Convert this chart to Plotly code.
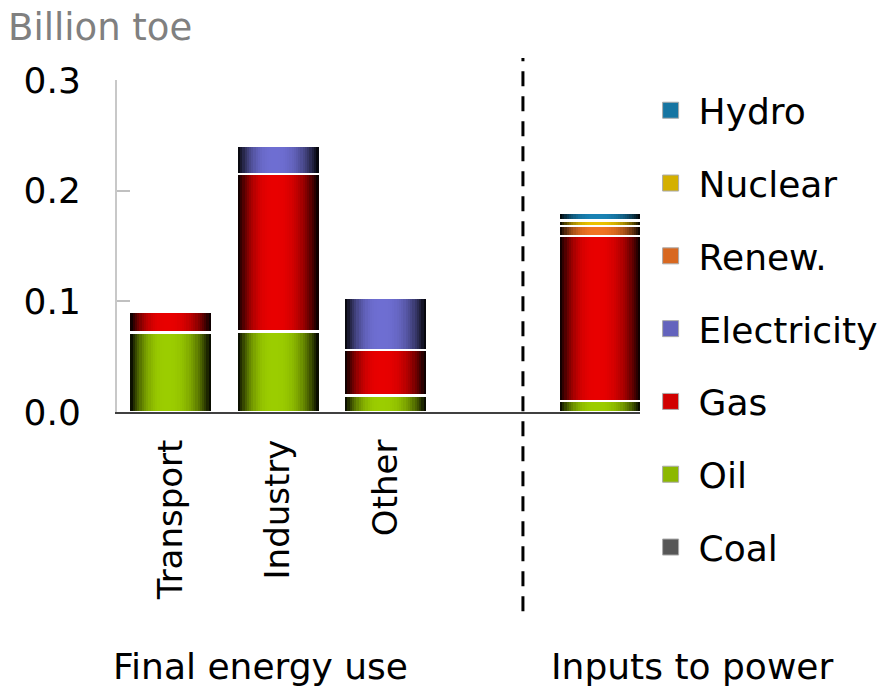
import plotly.graph_objects as go

# ---------------- data ----------------
categories = ["Transport", "Industry", "Other", "Inputs to power"]
x_pos = [0, 1, 2, 4]
tick_cats = ["Transport", "Industry", "Other"]
series_names = ["Coal", "Oil", "Gas", "Electricity", "Renew.", "Nuclear", "Hydro"]
coal = [0.0, 0.0, 0.0, 0.0]
oil = [0.072, 0.073, 0.015, 0.010]
gas = [0.019, 0.142, 0.041, 0.149]
electricity = [0.0, 0.026, 0.047, 0.0]
renew = [0.0, 0.0, 0.0, 0.009]
nuclear = [0.0, 0.0, 0.0, 0.005]
hydro = [0.0, 0.0, 0.0, 0.007]
y_ticks = [0.0, 0.1, 0.2, 0.3]
y_tick_labels = ["0.0", "0.1", "0.2", "0.3"]

series_values = [coal, oil, gas, electricity, renew, nuclear, hydro]
base_colors = {
    "Coal": (95, 95, 95),
    "Oil": (155, 205, 0),
    "Gas": (232, 0, 0),
    "Electricity": (110, 110, 210),
    "Renew.": (240, 115, 35),
    "Nuclear": (235, 195, 0),
    "Hydro": (25, 130, 180),
}

BAR_W = 0.75
N_STRIPS = 36
GAP = 0.0024


def shade(t):
    if t < 0.45:
        d = (0.45 - t) / 0.45
    else:
        d = (t - 0.45) / 0.55
    g = 1 - abs(d) ** 2.6
    return max(0.06, g)


def rgb(c, f=1.0):
    return "rgb(%d,%d,%d)" % tuple(int(round(v * f)) for v in c)


fig = go.Figure()

# cylinder-shaded stacked bars made of vertical strips
for k in range(N_STRIPS):
    t = (k + 0.5) / N_STRIPS
    f = shade(t)
    xs, bases, ys, cols = [], [], [], []
    cum = [0.0] * len(x_pos)
    for name, vals in zip(series_names, series_values):
        for i, v in enumerate(vals):
            if v > GAP:
                xs.append(x_pos[i])
                bases.append(cum[i] + GAP / 2)
                ys.append(v - GAP)
                cols.append(rgb(base_colors[name], f))
            cum[i] += v
    fig.add_trace(go.Bar(
        x=xs, y=ys, base=bases,
        offset=-BAR_W / 2 + k * BAR_W / N_STRIPS,
        width=BAR_W / N_STRIPS * 1.08,
        marker=dict(color=cols, line=dict(width=0)),
        showlegend=False, hoverinfo="skip",
    ))

# legend entries
for name in reversed(series_names):
    fig.add_trace(go.Scatter(
        x=[None], y=[None], mode="markers", name=name, legendgroup=name,
        marker=dict(symbol="square", size=16, color=rgb(base_colors[name], 0.9),
                    line=dict(color="#aaaaaa", width=1)),
    ))

fig.add_shape(type="line", xref="x", yref="paper", x0=3.28, x1=3.28,
              y0=-0.60, y1=1.066,
              line=dict(color="black", width=3, dash="15px,10px"))

fig.add_annotation(text="Billion toe", xref="paper", yref="paper",
                   x=-0.212, y=1.157, xanchor="left", yanchor="middle",
                   showarrow=False, font=dict(size=37, color="#808080"))
fig.add_annotation(text="Final energy use", xref="paper", yref="paper",
                   x=0.275, y=-0.768, xanchor="center", yanchor="middle",
                   showarrow=False, font=dict(size=36, color="black"))
fig.add_annotation(text="Inputs to power", xref="paper", yref="paper",
                   x=1.10, y=-0.768, xanchor="center", yanchor="middle",
                   showarrow=False, font=dict(size=36, color="black"))

fig.update_layout(
    width=887, height=691,
    margin=dict(l=117, r=247, t=80, b=279, autoexpand=False),
    paper_bgcolor="white", plot_bgcolor="white",
    font=dict(family="DejaVu Sans", size=36, color="black"),
    barmode="overlay", bargap=0,
    showlegend=True,
    legend=dict(x=1.005, y=0.999, xanchor="left", yanchor="top",
                traceorder="grouped", tracegroupgap=23, maxheight=680,
                itemwidth=46,
                font=dict(size=36), bgcolor="rgba(0,0,0,0)"),
    xaxis=dict(range=[-0.5, 4.37], tickmode="array", tickvals=x_pos[:3],
               ticktext=tick_cats, tickangle=-90, ticks="",
               tickfont=dict(size=34), ticklabelstandoff=12,
               showline=True, linecolor="#404040", linewidth=2,
               showgrid=False, zeroline=False, fixedrange=True),
    yaxis=dict(range=[0, 0.3], tickmode="array", tickvals=y_ticks,
               ticktext=y_tick_labels, ticks="inside", ticklen=13,
               tickcolor="#c0c0c0", tickwidth=2,
               showline=True, linecolor="#c8c8c8", linewidth=2,
               tickfont=dict(size=36), ticklabelstandoff=27,
               showgrid=False, zeroline=False, fixedrange=True),
)

fig.write_html("out.html", config={"displayModeBar": False},
               post_script="document.body.style.margin='0';document.body.style.padding='0';")
